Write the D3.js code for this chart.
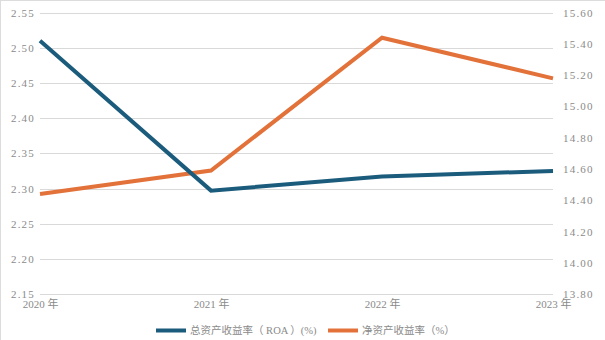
<!DOCTYPE html>
<html>
<head>
<meta charset="utf-8">
<script src="https://cdn.jsdelivr.net/npm/d3@7/dist/d3.min.js"></script>
<style>
  html, body { margin: 0; padding: 0; background: #ffffff; }
  svg { display: block; }
  text { font-family: "Liberation Serif", "Times New Roman", "Noto Sans CJK SC", serif; fill: #8a8a8a; }
</style>
</head>
<body>
<svg id="chart" width="605" height="340"></svg>
<script>
const years = ["2020 年", "2021 年", "2022 年", "2023 年"];
const roa = [2.51, 2.297, 2.317, 2.325];
const roe = [14.44, 14.59, 15.44, 15.18];
const leftTicks = [2.15, 2.20, 2.25, 2.30, 2.35, 2.40, 2.45, 2.50, 2.55];
const rightTicks = [13.80, 14.00, 14.20, 14.40, 14.60, 14.80, 15.00, 15.20, 15.40, 15.60];
const seriesNames = ["总资产收益率（ ROA ）(%)", "净资产收益率（%）"];
const colors = ["#1b5b7c", "#e2723a"];

const svg = d3.select("#chart");
const W = 605, H = 340;
const plot = { left: 40, right: 553, top: 12.7, bottom: 294 };
const serif = "'Liberation Serif', 'Times New Roman', 'Noto Sans CJK SC', serif";

// frame edges
svg.append("line").attr("x1", 0.5).attr("x2", 0.5).attr("y1", 0).attr("y2", H)
  .attr("stroke", "#dcdcdc").attr("stroke-width", 1);
svg.append("line").attr("x1", 0).attr("x2", W).attr("y1", 0.5).attr("y2", 0.5)
  .attr("stroke", "#dcdcdc").attr("stroke-width", 1);

const x = d3.scalePoint().domain(years).range([plot.left, plot.right]);
const yL = d3.scaleLinear().domain([2.15, 2.55]).range([plot.bottom, plot.top]);
const yR = d3.scaleLinear().domain([13.80, 15.60]).range([plot.bottom, plot.top]);

// gridlines follow the left axis
svg.append("g").selectAll("line").data(leftTicks).join("line")
  .attr("x1", plot.left).attr("x2", plot.right)
  .attr("y1", d => Math.round(yL(d)) + 0.5).attr("y2", d => Math.round(yL(d)) + 0.5)
  .attr("stroke", "#d9d9d9").attr("stroke-width", 1);

// left axis labels
const leftAxis = d3.axisLeft(yL).tickValues(leftTicks).tickFormat(d3.format(".2f")).tickSize(0).tickPadding(5);
const gL = svg.append("g").attr("transform", `translate(${plot.left},0)`).call(leftAxis);
gL.attr("font-family", null);
gL.select(".domain").remove();
gL.selectAll("text").attr("font-size", 11).attr("fill", "#8a8a8a")
  .style("font-family", serif).attr("letter-spacing", "1.2px");

// right axis labels
const rightAxis = d3.axisRight(yR).tickValues(rightTicks).tickFormat(d3.format(".2f")).tickSize(0).tickPadding(10);
const gR = svg.append("g").attr("transform", `translate(${plot.right},0)`).call(rightAxis);
gR.attr("font-family", null);
gR.select(".domain").remove();
gR.selectAll("text").attr("font-size", 11).attr("fill", "#8a8a8a")
  .style("font-family", serif).attr("letter-spacing", "1.2px");

// category labels
const xAxis = d3.axisBottom(x).tickSize(0).tickPadding(6);
const gX = svg.append("g").attr("transform", `translate(0,${plot.bottom})`).call(xAxis);
gX.attr("font-family", null);
gX.select(".domain").remove();
gX.selectAll("text").attr("font-size", 11).attr("fill", "#8a8a8a")
  .style("font-family", serif);

// series lines
const lineL = d3.line().x((d, i) => x(years[i])).y(d => yL(d));
const lineR = d3.line().x((d, i) => x(years[i])).y(d => yR(d));
svg.append("path").datum(roe).attr("d", lineR).attr("fill", "none")
  .attr("stroke", colors[1]).attr("stroke-width", 4).attr("stroke-linejoin", "miter");
svg.append("path").datum(roa).attr("d", lineL).attr("fill", "none")
  .attr("stroke", colors[0]).attr("stroke-width", 4).attr("stroke-linejoin", "miter");

// legend
const legend = svg.append("g");
const legendItems = [
  { x: 156, name: seriesNames[0], color: colors[0] },
  { x: 328, name: seriesNames[1], color: colors[1] }
];
const ly = 330.5;
legendItems.forEach(it => {
  legend.append("line").attr("x1", it.x).attr("x2", it.x + 30).attr("y1", ly).attr("y2", ly)
    .attr("stroke", it.color).attr("stroke-width", 4);
  legend.append("text").attr("x", it.x + 34).attr("y", ly).attr("dy", "0.35em")
    .attr("font-size", 10.5).attr("fill", "#8a8a8a")
    .style("font-family", serif)
    .text(it.name);
});
</script>
</body>
</html>
